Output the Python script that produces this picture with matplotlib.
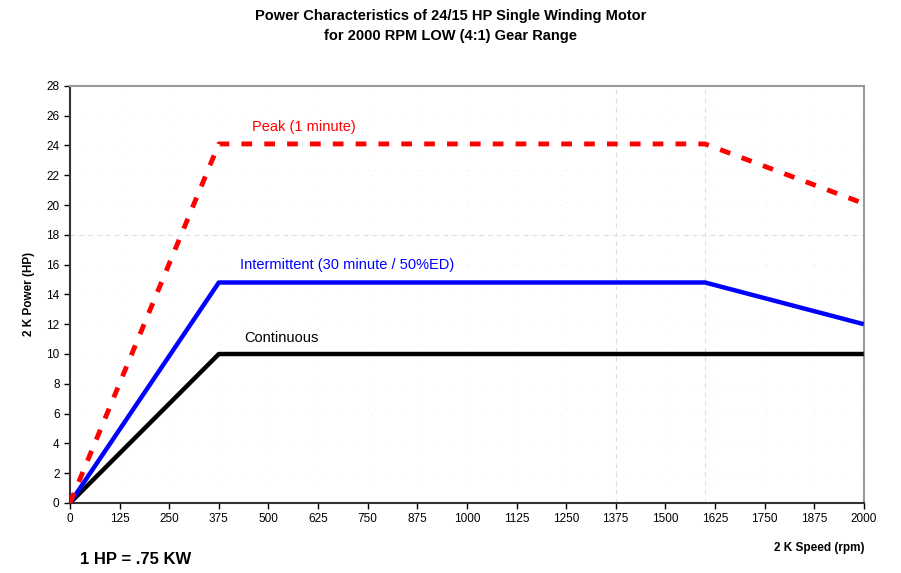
import matplotlib
matplotlib.use("Agg")
import matplotlib.pyplot as plt

plt.rcParams['font.family'] = ['Liberation Sans', 'DejaVu Sans']

# data
speed_peak = [0, 375, 1600, 2000]
power_peak = [0, 24.1, 24.1, 20.1]
speed_int = [0, 375, 1600, 2000]
power_int = [0, 14.8, 14.8, 12.0]
speed_cont = [0, 375, 2000]
power_cont = [0, 10.0, 10.0]

x_ticks = list(range(0, 2001, 125))
y_ticks = list(range(0, 29, 2))

fig = plt.figure(figsize=(9.01, 5.73), dpi=100)
ax = fig.add_axes([0.0777, 0.1222, 0.881, 0.728])

# faint dotted grid
for yv in y_ticks[1:-1]:
    ax.axhline(yv, color='#dddddd', lw=0.6, ls=(0, (1, 18)), zorder=0)
for xv in x_ticks[1:-1]:
    ax.axvline(xv, color='#dddddd', lw=0.6, ls=(0, (1, 18)), zorder=0)
# dashed reference lines
ax.axhline(18, color='#dddddd', lw=0.8, ls=(0, (4, 4)), zorder=0)
ax.axvline(1375, color='#dddddd', lw=0.8, ls=(0, (4, 4)), zorder=0)
ax.axvline(1600, color='#dddddd', lw=0.8, ls=(0, (4, 4)), zorder=0)

ax.plot(speed_cont, power_cont, color='black', lw=3.2, solid_capstyle='butt', zorder=3)
ax.plot(speed_int, power_int, color='#0000ff', lw=3.2, solid_capstyle='butt', zorder=4)
ax.plot(speed_peak, power_peak, color='#ff0000', lw=3.5, ls=(0, (2.2, 2.5)), zorder=5)

ax.text(458, 25.0, 'Peak (1 minute)', color='#ff0000', fontsize=10.5)
ax.text(428, 15.7, 'Intermittent (30 minute / 50%ED)', color='#0000ff', fontsize=10.5)
ax.text(440, 10.8, 'Continuous', color='black', fontsize=10.5)

ax.set_xlim(0, 2000)
ax.set_ylim(0, 28)
ax.set_xticks(x_ticks)
ax.set_yticks(y_ticks)
ax.tick_params(labelsize=8.5, direction='out', length=4, width=1, colors='black')

for s in ['top', 'right']:
    ax.spines[s].set_color('#999999')
    ax.spines[s].set_linewidth(1.5)
for s in ['left', 'bottom']:
    ax.spines[s].set_color('#333333')
    ax.spines[s].set_linewidth(1.5)

ax.set_ylabel('2 K Power (HP)', fontsize=8.5, fontweight='bold', labelpad=8)

fig.text(0.96, 0.043 + 0.0, '', fontsize=8)
fig.text(864 / 901, 1 - 548 / 573, '2 K Speed (rpm)', fontsize=8.5, fontweight='bold',
         ha='right', va='center')
fig.text(80 / 901, 1 - 560 / 573, '1 HP = .75 KW', fontsize=12, fontweight='bold',
         ha='left', va='center')

fig.text(0.5, 1 - 16 / 573, 'Power Characteristics of 24/15 HP Single Winding Motor',
         fontsize=10.5, fontweight='bold', ha='center', va='center')
fig.text(0.5, 1 - 36 / 573, 'for 2000 RPM LOW (4:1) Gear Range',
         fontsize=10.5, fontweight='bold', ha='center', va='center')

fig.savefig('out.png', dpi=100)
